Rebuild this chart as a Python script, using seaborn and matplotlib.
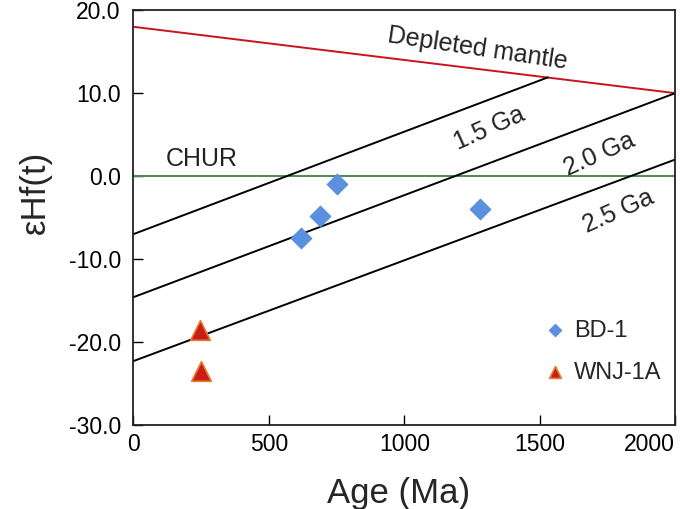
import numpy as np
import pandas as pd
import matplotlib.pyplot as plt
import seaborn as sns

# Sample data (age in Ma, epsilon Hf(t))
bd1_age = [620, 690, 750, 1280]
bd1_ehf = [-7.5, -4.8, -1.0, -4.0]
wnj_age = [245, 250]
wnj_ehf = [-18.5, -23.5]

# Reference evolution lines (age endpoints, eHf endpoints)
dm_age = [0, 2000]
dm_ehf = [18.0, 10.0]
chur_age = [0, 2000]
chur_ehf = [0.0, 0.0]
ga15_age = [0, 1530]
ga15_ehf = [-7.0, 11.9]
ga20_age = [0, 2000]
ga20_ehf = [-14.6, 10.0]
ga25_age = [0, 2000]
ga25_ehf = [-22.3, 2.0]

xticks = [0, 500, 1000, 1500, 2000]
yticks = [-30, -20, -10, 0, 10, 20]

sns.set_theme(style="white")
plt.rcParams['font.family'] = ['Liberation Sans', 'DejaVu Sans']

df = pd.DataFrame({
    'age': bd1_age + wnj_age,
    'ehf': bd1_ehf + wnj_ehf,
    'sample': ['BD-1'] * len(bd1_age) + ['WNJ-1A'] * len(wnj_age),
})

fig = plt.figure(figsize=(6.8, 5.09), dpi=100)
ax = fig.add_axes([0.196, 0.165, 0.797, 0.815])

# Evolution lines
sns.lineplot(x=dm_age, y=dm_ehf, color='#c8141e', lw=1.4, ax=ax)
sns.lineplot(x=chur_age, y=chur_ehf, color='#4e8a52', lw=1.4, ax=ax)
for xs, ys in [(ga15_age, ga15_ehf), (ga20_age, ga20_ehf), (ga25_age, ga25_ehf)]:
    sns.lineplot(x=xs, y=ys, color='black', lw=1.4, ax=ax)

# Data points
sns.scatterplot(data=df[df['sample'] == 'BD-1'], x='age', y='ehf', marker='D',
                color='#5b90e0', edgecolor='#5b90e0', s=110, label='BD-1', ax=ax, zorder=5)
sns.scatterplot(data=df[df['sample'] == 'WNJ-1A'], x='age', y='ehf', marker='^',
                color='#c81e1a', edgecolor='#e8782a', linewidth=1.2, s=200,
                label='WNJ-1A', ax=ax, zorder=5)

# Annotations
txt = dict(fontsize=18, color='#222222', rotation_mode='anchor', ha='center', va='center')
ax.text(1270, 15.4, 'Depleted mantle', rotation=-8.5, **txt)
ax.text(1315, 5.8, '1.5 Ga', rotation=24, **txt)
ax.text(1720, 2.6, '2.0 Ga', rotation=24, **txt)
ax.text(1790, -4.3, '2.5 Ga', rotation=24, **txt)
ax.text(118, 2.1, 'CHUR', fontsize=18, color='#222222', va='center')

ax.set_xlim(0, 2000)
ax.set_ylim(-30, 20)
ax.set_xticks(xticks)
ax.set_xticklabels([str(t) for t in xticks])
ax.set_yticks(yticks)
ax.set_yticklabels([f'{t:.1f}' for t in yticks])
ax.get_xticklabels()[-1].set_horizontalalignment('right')
ax.tick_params(direction='in', length=7, width=1, labelsize=16.5, colors='black',
               left=True, bottom=True)
ax.tick_params(axis='y', pad=9)
ax.tick_params(axis='x', pad=6)
for s in ax.spines.values():
    s.set_color('#222222')
    s.set_linewidth(1.3)

ax.set_xlabel('Age (Ma)', fontsize=25)
ax.set_ylabel('εHf(t)', fontsize=25)
ax.xaxis.set_label_coords(0.49, -0.125)
ax.yaxis.set_label_coords(-0.15, 0.56)

leg = ax.legend(loc='lower right', bbox_to_anchor=(1.005, 0.06), frameon=False,
                fontsize=17, handletextpad=-0.2, borderaxespad=0.3,
                markerscale=0.6, labelspacing=0.85)

fig.savefig('out.png', dpi=100)
